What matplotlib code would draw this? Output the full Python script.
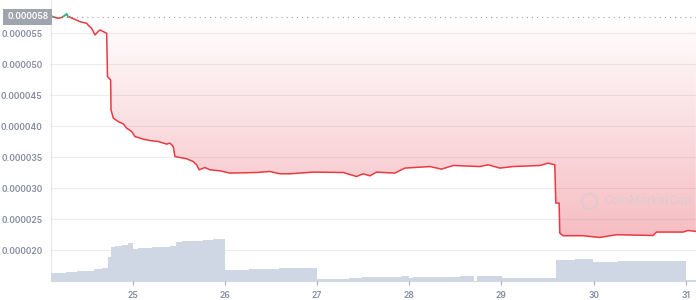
import numpy as np
import matplotlib.pyplot as plt
from matplotlib.colors import LinearSegmentedColormap
from matplotlib.patches import Rectangle
from matplotlib.path import Path
from matplotlib.transforms import blended_transform_factory

# preço (dia do mês, valor em 1e-6)
dias = [24.114, 24.157, 24.190, 24.233, 24.255, 24.284, 24.298, 24.320, 24.381, 24.428,
        24.474, 24.501, 24.515, 24.555, 24.591, 24.627, 24.645, 24.718, 24.727, 24.761,
        24.765, 24.790, 24.844, 24.898, 24.935, 24.989, 25.025, 25.061, 25.115, 25.188,
        25.278, 25.369, 25.405, 25.440, 25.459, 25.586, 25.657, 25.694, 25.722, 25.784,
        25.838, 25.947, 26.055, 26.345, 26.489, 26.598, 26.706, 26.959, 27.284, 27.429,
        27.501, 27.574, 27.646, 27.845, 27.953, 28.225, 28.351, 28.477, 28.767, 28.857,
        28.984, 29.128, 29.418, 29.508, 29.580, 29.591, 29.627, 29.634, 29.670, 29.887,
        30.068, 30.249, 30.646, 30.683, 30.972, 31.026, 31.110]
preco = [57.79, 57.55, 57.42, 57.55, 57.79, 58.11, 57.71, 57.58, 57.20, 56.87,
         56.71, 56.61, 56.34, 55.81, 54.73, 55.30, 55.53, 55.00, 48.00, 47.47,
         42.63, 41.29, 40.74, 40.37, 39.68, 39.13, 38.32, 38.16, 37.90, 37.68,
         37.52, 37.10, 37.26, 36.71, 35.10, 34.73, 34.29, 33.76, 32.95, 33.32,
         32.95, 32.79, 32.42, 32.52, 32.68, 32.31, 32.31, 32.58, 32.52, 31.87,
         32.31, 31.98, 32.58, 32.42, 33.23, 33.48, 33.06, 33.65, 33.48, 33.76,
         33.23, 33.48, 33.65, 34.03, 33.76, 27.58, 27.58, 22.74, 22.31, 22.31,
         22.03, 22.47, 22.35, 22.90, 22.90, 23.16, 23.00]
base = 57.63  # preço de abertura (linha pontilhada)

# volume (inicio de cada degrau, valor relativo)
vol_dias = [24.111, 24.273, 24.393, 24.584, 24.664, 24.729, 24.765, 24.808, 24.881, 24.952,
            25.000, 25.061, 25.206, 25.405, 25.466, 25.531, 25.766, 25.874, 26.001, 26.265,
            26.326, 26.590, 26.996, 27.346, 27.484, 27.918, 27.997, 28.043, 28.550, 28.702,
            28.731, 29.002, 29.591, 29.797, 29.996, 30.267, 31.001, 31.110]
volume = [8.3, 9.0, 10.0, 12.0, 13.3, 23.7, 34.3, 35.0, 36.0, 37.7,
          31.7, 33.0, 33.7, 34.7, 39.3, 40.0, 41.0, 42.0, 11.0, 11.7,
          12.0, 13.0, 2.0, 3.0, 4.0, 5.0, 3.3, 4.0, 5.0, 0.0,
          5.3, 3.0, 21.0, 22.0, 19.3, 20.0, 1.0, 1.0]

dias_ticks = [25, 26, 27, 28, 29, 30, 31]

plt.rcParams['font.family'] = ['Inter', 'DejaVu Sans']
cinza = '#858ca2'
vermelho = '#ea3943'
verde = '#16c784'

fig = plt.figure(figsize=(6.96, 3.0), dpi=100)
ax = fig.add_axes([51 / 696, 19 / 300, 645 / 696, 281 / 300])

x = np.array(dias)
y = np.array(preco) * 1e-6
b = base * 1e-6
x0, x1 = 24.114, 31.112
ymin, ymax = 15e-6, 60.37e-6

ax.set_xlim(x0, x1)
ax.set_ylim(ymin, ymax)

# preenchimento degrade entre a linha e a base
poly = ax.fill_between(x, y, b, where=y <= b, interpolate=True, facecolor='none', edgecolor='none')
caminho = Path.make_compound_path(*poly.get_paths())
cmap = LinearSegmentedColormap.from_list('rosa', ['#ffffff', '#f6bdc2'])
grad = np.linspace(0, 1, 256).reshape(-1, 1)
im = ax.imshow(grad, cmap=cmap, aspect='auto', extent=[x0, x1, y.min(), b],
               origin='upper', zorder=1)
im.set_clip_path(caminho, transform=ax.transData)

ax.plot(x, y, color=vermelho, lw=1.1, zorder=3)
ln, = ax.plot(x, y, color=verde, lw=1.1, zorder=3.1)
ln.set_clip_path(Rectangle((x0, b), x1 - x0, ymax - b, transform=ax.transData))

ax.axhline(b, color='#9aa0aa', lw=0.8, ls=(0, (1, 3.6)), zorder=2)

# grade e eixos
ax.set_yticks(np.arange(20e-6, 56e-6, 5e-6))
ax.yaxis.set_major_formatter(plt.FuncFormatter(lambda v, p: f'{v:.6f}'))
ax.set_axisbelow(False)
ax.grid(axis='y', color='#8c8ca6', alpha=0.16, lw=0.8)
ax.set_xticks(dias_ticks)
ax.set_xticklabels([str(d) for d in dias_ticks])
ax.tick_params(axis='y', length=0, pad=6, labelsize=6.2, labelcolor=cinza)
ax.tick_params(axis='x', length=3, width=0.8, color='#aab0bd', pad=4,
               labelsize=6.2, labelcolor=cinza)
for t in ax.get_xticklabels() + ax.get_yticklabels():
    t.set_fontweight('semibold')
for s in ['top', 'right']:
    ax.spines[s].set_visible(False)
ax.spines['left'].set_color('#e6e8ee')
ax.spines['bottom'].set_color('#d5d9e2')

# rótulo da base
trans = blended_transform_factory(ax.transAxes, ax.transData)
ax.text(-0.004, b, '0.000058', transform=trans, ha='right', va='center', fontsize=6.2,
        color='white', fontweight='semibold',
        bbox=dict(boxstyle='square,pad=0.45', fc='#a0a4ad', ec='none'), zorder=5)

# marca d'água
ax.plot([0.834], [0.285], 'o', transform=ax.transAxes, ms=11, mfc='none', mec='#c9cdd8',
        mew=1.6, alpha=0.45, zorder=4)
ax.text(0.857, 0.285, 'CoinMarketCap', transform=ax.transAxes, ha='left', va='center',
        fontsize=8.5, color='#c9cdd8', alpha=0.45, fontweight='semibold', zorder=4)

# volume
ax2 = ax.twinx()
ax2.fill_between(vol_dias, volume, step='post', color='#cfd6e4', lw=0)
ax2.set_ylim(0, max(volume) * 6.69)
ax2.set_yticks([])
for s in ax2.spines.values():
    s.set_visible(False)

fig.savefig('out.png', dpi=100)
